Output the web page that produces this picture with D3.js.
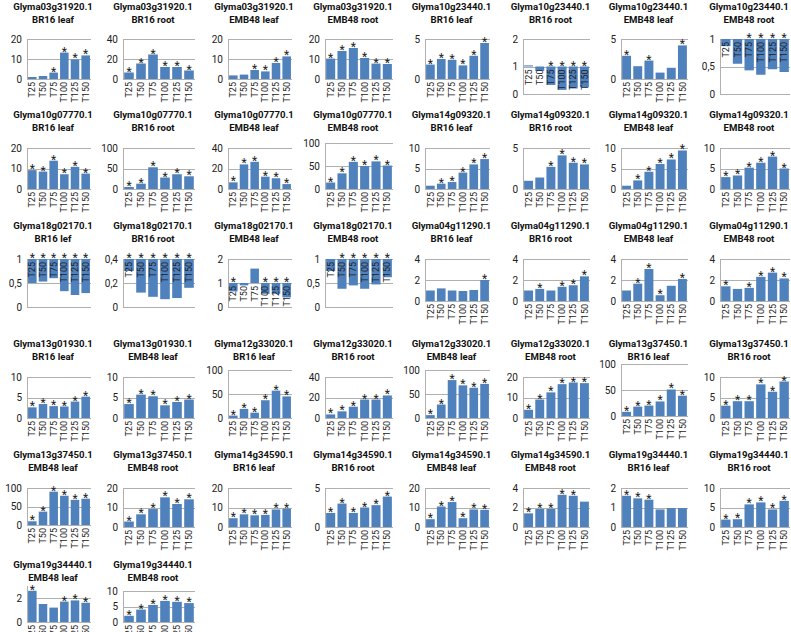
<!DOCTYPE html>
<html>
<head>
<meta charset="utf-8">
<script src="https://cdn.jsdelivr.net/npm/d3@7"></script>
<style>
  body { margin: 0; background: #fff; }
  svg { display: block; font-family: Roboto, "Liberation Sans", sans-serif; }
</style>
</head>
<body>
<svg id="chart" width="791" height="632"></svg>
<script>
// x categories shared by every panel
const categories = ["T25", "T50", "T75", "T100", "T125", "T150"];

// panel titles, left to right, top to bottom
const panelGenes = [
  "Glyma03g31920.1","Glyma03g31920.1","Glyma03g31920.1","Glyma03g31920.1","Glyma10g23440.1","Glyma10g23440.1","Glyma10g23440.1","Glyma10g23440.1",
  "Glyma10g07770.1","Glyma10g07770.1","Glyma10g07770.1","Glyma10g07770.1","Glyma14g09320.1","Glyma14g09320.1","Glyma14g09320.1","Glyma14g09320.1",
  "Glyma18g02170.1","Glyma18g02170.1","Glyma18g02170.1","Glyma18g02170.1","Glyma04g11290.1","Glyma04g11290.1","Glyma04g11290.1","Glyma04g11290.1",
  "Glyma13g01930.1","Glyma13g01930.1","Glyma12g33020.1","Glyma12g33020.1","Glyma12g33020.1","Glyma12g33020.1","Glyma13g37450.1","Glyma13g37450.1",
  "Glyma13g37450.1","Glyma13g37450.1","Glyma14g34590.1","Glyma14g34590.1","Glyma14g34590.1","Glyma14g34590.1","Glyma19g34440.1","Glyma19g34440.1",
  "Glyma19g34440.1","Glyma19g34440.1"
];
const panelTissues = [
  "BR16 leaf","BR16 root","EMB48 leaf","EMB48 root","BR16 leaf","BR16 root","EMB48 leaf","EMB48 root",
  "BR16 leaf","BR16 root","EMB48 leaf","EMB48 root","BR16 leaf","BR16 root","EMB48 leaf","EMB48 root",
  "BR16 lef","BR16 root","EMB48 leaf","EMB48 root","BR16 leaf","BR16 root","EMB48 leaf","EMB48 root",
  "BR16 leaf","EMB48 leaf","BR16 leaf","BR16 root","EMB48 leaf","EMB48 root","BR16 leaf","BR16 root",
  "EMB48 leaf","EMB48 root","BR16 leaf","BR16 root","EMB48 leaf","EMB48 root","BR16 leaf","BR16 root",
  "EMB48 leaf","EMB48 root"
];

// fold change values, one row per panel (T25..T150)
const panelValues = [
  [1, 1.5, 3.2, 13.2, 9.8, 11.8],
  [6.5, 15.5, 24.5, 12, 12, 8.5],
  [1.8, 2.2, 4.5, 3.8, 8, 11.3],
  [10.2, 14, 15.5, 10.5, 7.7, 7.5],
  [1.8, 2.5, 2.4, 1.7, 2.9, 4.5],
  [1.04, 0.84, 0.33, 0.15, 0.2, 0.25],
  [2.9, 1.6, 2.3, 0.8, 1.4, 4.2],
  [0.87, 0.55, 0.43, 0.35, 0.45, 0.4],

  [9.2, 8.5, 13.8, 7.2, 10.8, 7.5],
  [5, 13, 53, 28, 36, 31],
  [6.5, 24, 26.5, 12, 10.5, 4.8],
  [14, 34, 59, 50, 60, 51],
  [0.8, 1.3, 1.7, 4, 6, 7.3],
  [1, 1.4, 2.7, 4.1, 3.2, 3.0],
  [0.8, 2.1, 4.2, 6.1, 7.2, 9.4],
  [2.9, 3.3, 5.2, 6.4, 7.9, 5.0],

  [0.5, 0.53, 0.6, 0.33, 0.25, 0.29],
  [0.3, 0.12, 0.085, 0.065, 0.075, 0.16],
  [0.65, 0.9, 1.6, 0.55, 0.55, 0.4],
  [0.75, 0.38, 0.45, 0.38, 0.47, 0.62],
  [1.0, 1.2, 1.0, 0.95, 1.05, 2.0],
  [1.0, 1.15, 1.0, 1.35, 1.5, 2.35],
  [1.0, 1.65, 3.05, 0.55, 1.45, 2.1],
  [1.4, 1.15, 1.25, 2.3, 2.7, 2.15],

  [2.6, 3.4, 2.9, 2.8, 4.0, 5.2],
  [3.4, 5.7, 5.3, 3.1, 3.9, 4.5],
  [5, 19, 11, 37, 57, 45],
  [3.5, 6.5, 11, 18, 18, 22],
  [6, 28, 79, 68, 63, 71],
  [4, 9, 12.5, 16.5, 17.3, 17],
  [8, 18, 20, 28, 51, 39],
  [3, 4.1, 4.1, 8.2, 6.4, 8.9],

  [10, 36, 90, 79, 68, 71],
  [2.8, 6.5, 9.2, 15.2, 11.8, 14.2],
  [4.5, 6.5, 6, 6.2, 9, 9.4],
  [1.8, 3.0, 1.8, 2.5, 2.8, 3.9],
  [4, 10.5, 12.8, 4.5, 9, 8.8],
  [1.4, 1.85, 1.85, 3.3, 3.2, 2.6],
  [1.6, 1.47, 1.4, 0.9, 0.97, 0.97],
  [1.9, 2, 5.8, 6.3, 4.5, 6.7],

  [2.6, 1.5, 1.2, 1.7, 1.8, 1.6],
  [2, 4, 5.5, 6.8, 6.5, 6.1]
];

// which categories carry a significance star (indices into categories)
const ALL = [0, 1, 2, 3, 4, 5];
const panelStars = [
  [2,3,4,5], ALL, [2,3,4,5], ALL, ALL, [2,3,4,5], [0,2,5], [2,3,4,5],
  ALL, ALL, ALL, ALL, [1,2,3,4,5], [2,3,4,5], [1,2,3,4,5], ALL,
  ALL, ALL, [0,3,4,5], [1,2,3,4,5], [5], [1,3,4,5], [1,2,3,5], [0,2,3,4,5],
  ALL, ALL, ALL, ALL, ALL, ALL, ALL, ALL,
  ALL, ALL, ALL, ALL, ALL, [0,1,2,3,4], [0,1,2], ALL,
  [0,3,4,5], ALL
];

// y axis maximum and tick values per panel
const panelMax = [
  20, 40, 20, 20, 5, 2, 5, 1,
  20, 100, 40, 100, 10, 5, 10, 10,
  1, 0.4, 2, 1, 4, 4, 4, 4,
  10, 10, 100, 40, 100, 20, 100, 10,
  100, 20, 20, 5, 20, 4, 2, 10,
  3, 10
];
const panelTicks = panelMax.map((m, i) => {
  if (i === 40) return [0, 2];
  if (m === 5) return [0, 5];
  return [0, m / 2, m];
});
// value where the category axis crosses (bars grow from here)
const panelCross = panelValues.map((v, i) => {
  if (i === 5 || i === 18) return 1;
  if (i === 7 || i === 16 || i === 19) return 1;
  if (i === 17) return 0.4;
  return 0;
});

// ---- layout ----
const colLeft  = [27, 123, 228, 325, 425, 523, 621, 720];
const colRight = [91, 195, 292, 393, 490, 590, 688, 790];
const rowTitle = [7, 115, 226, 344, 455, 565];
const rowTop   = [39, 148, 259, 377, 488, 586];
const rowBot   = [79, 189, 301, 418, 527, 622];
const invBot   = [94, 204, 307, 433, 542, 637];
const topFix = {11: 143, 26: 370, 28: 370, 30: 364, 41: 591};
const botFix = {30: 416, 32: 525};

const svg = d3.select("#chart");
const fmt = d => d3.format("~g")(d).replace(".", ",");

panelValues.forEach((vals, i) => {
  const row = Math.floor(i / 8), col = i % 8;
  const left = colLeft[col], right = colRight[col];
  const cross = panelCross[i];
  const top = topFix[i] !== undefined ? topFix[i] : rowTop[row];
  const bot = cross ? invBot[row] : (botFix[i] !== undefined ? botFix[i] : rowBot[row]);

  const g = svg.append("g");
  const x = d3.scaleBand().domain(categories).range([left, right]).paddingInner(0.2).paddingOuter(0.1);
  const y = d3.scaleLinear().domain([0, panelMax[i]]).range([bot, top]);

  // titles
  const tx = (left + right) / 2 - 6;
  g.append("text").attr("x", tx).attr("y", rowTitle[row]).attr("dy", "0.35em")
    .attr("text-anchor", "middle").attr("font-size", 9.6).attr("font-weight", "bold")
    .attr("fill", "#111").text(panelGenes[i]);
  g.append("text").attr("x", tx).attr("y", rowTitle[row] + 13).attr("dy", "0.35em")
    .attr("text-anchor", "middle").attr("font-size", 9.6).attr("font-weight", "bold")
    .attr("fill", "#111").text(panelTissues[i]);

  // gridlines
  g.selectAll("line.grid").data(panelTicks[i]).join("line")
    .attr("x1", left).attr("x2", right)
    .attr("y1", d => Math.round(y(d)) + 0.5).attr("y2", d => Math.round(y(d)) + 0.5)
    .attr("stroke", "#b0b0b0").attr("stroke-width", 1);
  g.append("line").attr("x1", left + 0.5).attr("x2", left + 0.5)
    .attr("y1", y(panelMax[i])).attr("y2", bot)
    .attr("stroke", "#b0b0b0");

  // y labels
  g.selectAll("text.yl").data(panelTicks[i]).join("text")
    .attr("x", left - 5).attr("y", d => y(d)).attr("dy", "0.35em")
    .attr("text-anchor", "end").attr("font-size", 10).attr("fill", "#222")
    .text(fmt);

  // bars
  g.selectAll("rect").data(vals).join("rect")
    .attr("x", (d, k) => x(categories[k]))
    .attr("width", x.bandwidth())
    .attr("y", d => Math.min(y(d), y(cross)))
    .attr("height", d => Math.abs(y(d) - y(cross)))
    .attr("fill", "#4f81bd");

  // category labels
  g.selectAll("text.xl").data(categories).join("text")
    .attr("transform", c => `translate(${x(c) + x.bandwidth() / 2},${y(cross) + 3}) rotate(-90)`)
    .attr("dy", "0.35em").attr("text-anchor", "end")
    .attr("font-size", 9).attr("fill", "#222").text(c => c);

  // stars
  g.selectAll("text.st").data(panelStars[i]).join("text")
    .attr("x", k => x(categories[k]) + x.bandwidth() / 2)
    .attr("y", k => Math.min(y(vals[k]), y(cross)) + 3)
    .attr("text-anchor", "middle").attr("font-size", 12).attr("fill", "#222")
    .text("*");
});
</script>
</body>
</html>
